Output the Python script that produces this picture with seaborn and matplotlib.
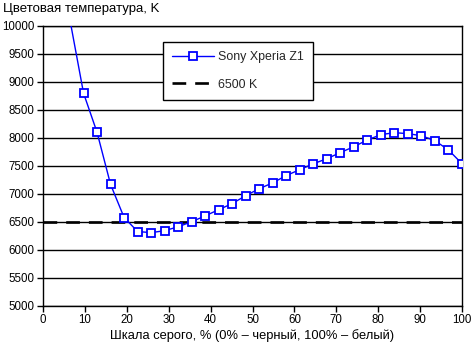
import matplotlib
matplotlib.use("Agg")
import matplotlib.pyplot as plt
import seaborn as sns

# Grey-scale steps: 32 levels, index 0..31 mapped to 0..100 %
step_index = list(range(2, 32))
color_temp = [10100, 8800, 8100, 7170, 6580, 6330, 6310, 6345, 6415, 6505,
              6610, 6720, 6830, 6970, 7095, 7200, 7330, 7435, 7540, 7630,
              7740, 7845, 7965, 8060, 8095, 8078, 8040, 7952, 7786, 7541]
gray_pct = [i * 100 / 31 for i in step_index]

ref_x = [0, 100]
ref_y = [6500, 6500]

series_label = "Sony Xperia Z1"
ref_label = "6500 K"
y_title = "Цветовая температура, K"
x_title = "Шкала серого, % (0% – черный, 100% – белый)"

sns.set_theme(style="white")
plt.rcParams["font.family"] = ["Liberation Sans", "DejaVu Sans"]
plt.rcParams["font.size"] = 8.3

W, H = 472, 349
fig = plt.figure(figsize=(W / 100, H / 100), dpi=100)
ax = fig.add_axes([43 / W, 1 - 306 / H, (462 - 43) / W, (306 - 26) / H])

sns.lineplot(x=ref_x, y=ref_y, ax=ax, color="black", linewidth=1.9,
             dashes=False, label=ref_label, zorder=2)
ax.lines[-1].set_dashes([5.2, 3.4])

sns.lineplot(x=gray_pct, y=color_temp, ax=ax, color="#0000ff", linewidth=1.0,
             marker="s", markersize=5.6, markerfacecolor="white",
             markeredgecolor="#0000ff", markeredgewidth=1.3,
             label=series_label, zorder=3)

ax.set_xlim(0, 100)
ax.set_ylim(5000, 10000)
ax.set_xticks(range(0, 101, 10))
ax.set_yticks(range(5000, 10001, 500))
ax.yaxis.grid(True, color="black", linewidth=1.0)
ax.xaxis.grid(False)
ax.set_axisbelow(True)

for side in ["left", "bottom", "right", "top"]:
    ax.spines[side].set_visible(True)
    ax.spines[side].set_color("black")
    ax.spines[side].set_linewidth(1.0)

ax.tick_params(axis="both", which="major", direction="out", length=4,
               width=1, color="black", labelcolor="black", labelsize=8.3,
               bottom=True, left=True, pad=2)

ax.set_xlabel(x_title, fontsize=9.3, color="black", labelpad=2)
ax.set_ylabel("")
fig.text(3 / W, 1 - 9 / H, y_title, fontsize=9.5, color="black",
         ha="left", va="center")

handles, labels = ax.get_legend_handles_labels()
order = [labels.index(series_label), labels.index(ref_label)]
leg = ax.legend([handles[i] for i in order], [labels[i] for i in order],
                loc="upper left", bbox_to_anchor=((163 - 43) / 419, (306 - 42) / 280),
                borderaxespad=0, frameon=True, fancybox=False, framealpha=1,
                edgecolor="black", borderpad=0.75, labelspacing=1.25,
                handlelength=3.4, handletextpad=0.3, fontsize=8.9)
leg.get_frame().set_linewidth(1.0)

fig.savefig("out.png", dpi=100)
